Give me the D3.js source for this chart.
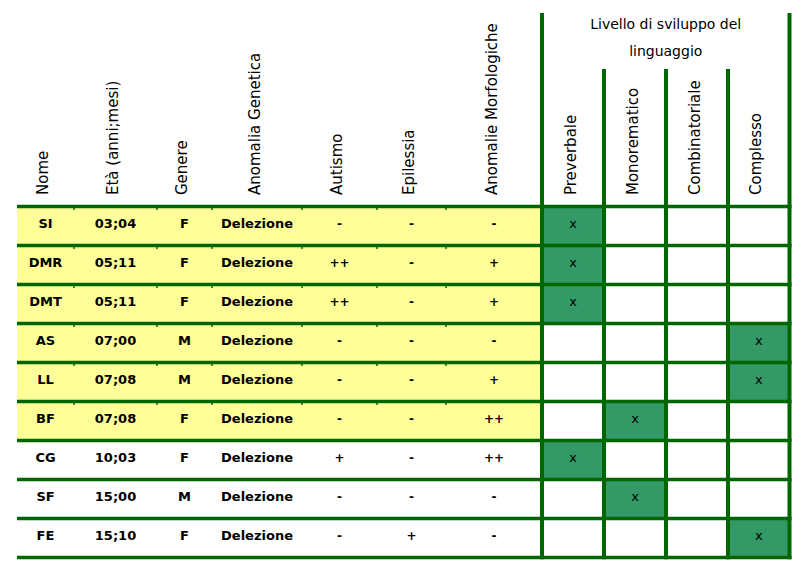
<!DOCTYPE html>
<html><head><meta charset="utf-8">
<script src="https://cdn.jsdelivr.net/npm/d3@7"></script>
<style>body{margin:0;background:#fff}</style></head>
<body><svg id="c" width="812" height="576"></svg>
<script>
// ---- data ----
const headers = ["Nome","Età (anni;mesi)","Genere","Anomalia Genetica","Autismo","Epilessia","Anomalie Morfologiche"];
const levelHeaders = ["Preverbale","Monorematico","Combinatoriale","Complesso"];
const groupTitle = ["Livello di sviluppo del","linguaggio"];
const names = ["SI","DMR","DMT","AS","LL","BF","CG","SF","FE"];
const ages = ["03;04","05;11","05;11","07;00","07;08","07;08","10;03","15;00","15;10"];
const genders = ["F","F","F","M","M","F","F","M","F"];
const genetic = ["Delezione","Delezione","Delezione","Delezione","Delezione","Delezione","Delezione","Delezione","Delezione"];
const autism = ["-","++","++","-","-","-","+","-","-"];
const epilepsy = ["-","-","-","-","-","-","-","-","+"];
const morph = ["-","+","+","-","+","++","++","-","-"];
const level = ["Preverbale","Preverbale","Preverbale","Complesso","Complesso","Monorematico","Preverbale","Monorematico","Complesso"];
const highlighted = [true,true,true,true,true,true,false,false,false];

// ---- layout ----
const W = 812, H = 576;
const x0 = 17;
const colWidths = [57,83,55,90,75,69,96,62,62,62,61.5];
const tableTop = 206.5, tableBottom = 557.5, headTop = 13, subTop = 69;
const lineColor = "#006600", greenFill = "#339966", yellowFill = "#FFFF99";
const font = "'DejaVu Sans', sans-serif";

const allCols = headers.concat(levelHeaders);
const edges = [x0].concat(Array.from(d3.cumsum(colWidths), v => x0 + v));
const colX = d3.scaleOrdinal().domain(allCols).range(edges.slice(0, -1));
const colW = d3.scaleOrdinal().domain(allCols).range(colWidths);
const colC = c => colX(c) + colW(c) / 2;
const y = d3.scaleBand().domain(names).range([tableTop, tableBottom]).padding(0);

const svg = d3.select("#c");
svg.append("rect").attr("width", W).attr("height", H).attr("fill", "#fff");

const rows = names.map((n, i) => ({
  name: n, vals: [n, ages[i], genders[i], genetic[i], autism[i], epilepsy[i], morph[i]],
  level: level[i], hi: highlighted[i]
}));

// yellow fills
svg.append("g").selectAll("rect").data(rows.filter(r => r.hi)).join("rect")
  .attr("x", colX(headers[0]))
  .attr("y", d => y(d.name))
  .attr("width", colX(levelHeaders[0]) - colX(headers[0]))
  .attr("height", y.bandwidth())
  .attr("fill", yellowFill);

// green level cells
svg.append("g").selectAll("rect").data(rows).join("rect")
  .attr("x", d => colX(d.level))
  .attr("y", d => y(d.name))
  .attr("width", d => colW(d.level))
  .attr("height", y.bandwidth())
  .attr("fill", greenFill);

// small ticks at column boundaries in yellow rows
const innerEdges = headers.slice(1);
const ticks = [];
rows.filter(r => r.hi).forEach(r => innerEdges.forEach(c => ticks.push({x: colX(c), y: y(r.name)})));
svg.append("g").selectAll("line").data(ticks).join("line")
  .attr("x1", d => d.x).attr("x2", d => d.x)
  .attr("y1", d => d.y).attr("y2", d => d.y + 3.5)
  .attr("stroke", lineColor).attr("stroke-width", 1.5);

// horizontal lines
const hLines = names.map(n => y(n)).concat([tableBottom]);
const rightEdge = edges[edges.length - 1];
svg.append("g").selectAll("line").data(hLines).join("line")
  .attr("x1", x0).attr("x2", rightEdge + 2)
  .attr("y1", d => d).attr("y2", d => d)
  .attr("stroke", lineColor).attr("stroke-width", 3.5);

// vertical lines
const vLines = [
  {x: colX(levelHeaders[0]), top: headTop},
  ...levelHeaders.slice(1).map(c => ({x: colX(c), top: subTop})),
  {x: rightEdge, top: headTop}
];
svg.append("g").selectAll("line").data(vLines).join("line")
  .attr("x1", d => d.x).attr("x2", d => d.x)
  .attr("y1", d => d.top).attr("y2", tableBottom + 1.75)
  .attr("stroke", lineColor).attr("stroke-width", 4);

// rotated headers
svg.append("g").selectAll("text").data(allCols).join("text")
  .attr("transform", d => `translate(${colC(d) + 2.5},195) rotate(-90)`)
  .attr("font-family", font).attr("font-size", 15).attr("fill", "#000")
  .text(d => d);

// group title
svg.append("g").selectAll("text").data(groupTitle).join("text")
  .attr("x", (colX(levelHeaders[0]) + rightEdge) / 2)
  .attr("y", (d, i) => 29 + i * 27)
  .attr("text-anchor", "middle")
  .attr("font-family", font).attr("font-size", 14).attr("fill", "#000")
  .text(d => d);

// data text
const cells = [];
rows.forEach(r => r.vals.forEach((v, j) => cells.push({row: r.name, col: headers[j], v, j})));
svg.append("g").selectAll("text").data(cells).join("text")
  .attr("x", d => colC(d.col))
  .attr("y", d => y(d.row) + y.bandwidth() / 2 + 2)
  .attr("text-anchor", "middle")
  .attr("font-family", font)
  .attr("font-weight", "bold")
  .attr("font-size", d => d.j >= 4 ? 12 : 13)
  .attr("fill", "#000")
  .text(d => d.v);

// x marks
svg.append("g").selectAll("text").data(rows).join("text")
  .attr("x", d => colC(d.level))
  .attr("y", d => y(d.name) + y.bandwidth() / 2 + 2)
  .attr("text-anchor", "middle")
  .attr("font-family", font).attr("font-size", 13).attr("fill", "#000")
  .text("x");
</script></body></html>
